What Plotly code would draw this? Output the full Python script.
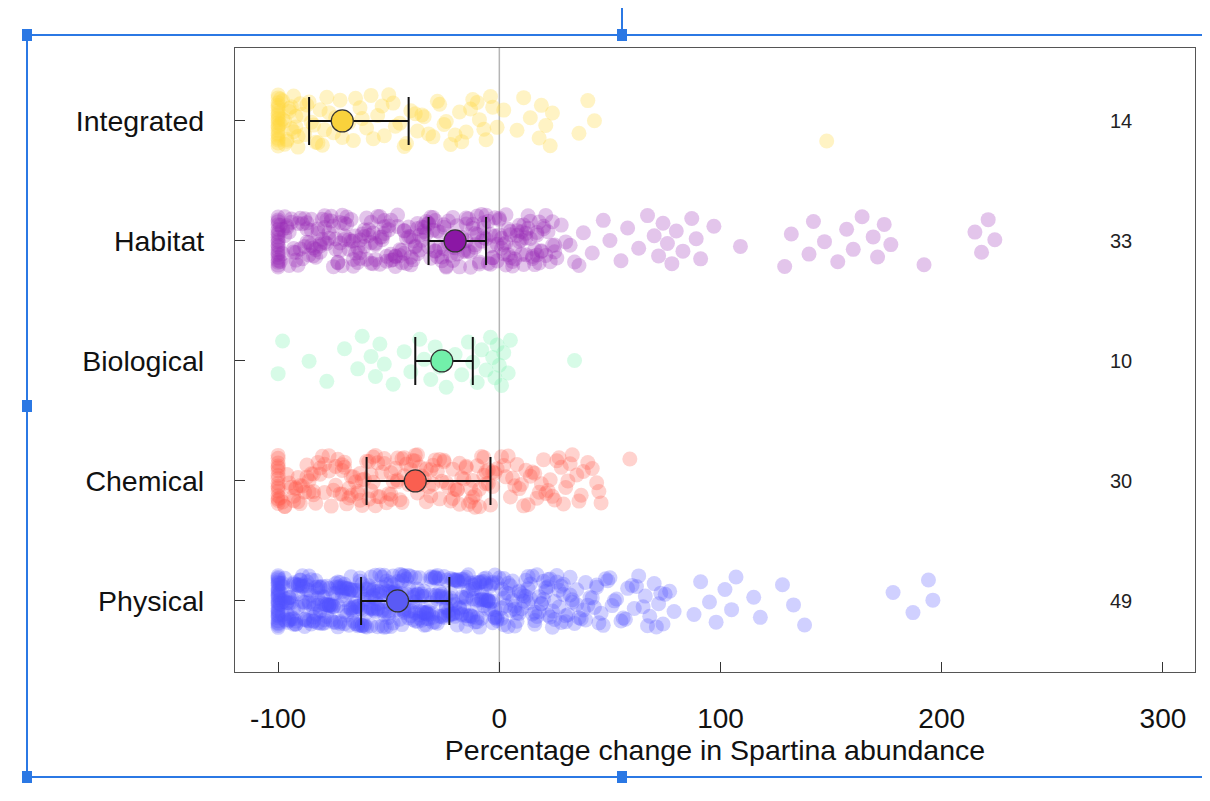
import plotly.graph_objects as go

# ---------------- data ----------------
categories = ["Physical", "Chemical", "Biological", "Habitat", "Integrated"]
n_studies = [49, 30, 10, 33, 14]
means = [-46, -38, -26, -20, -71]
ci_low = [-62.5, -60, -38, -32, -86]
ci_high = [-22.6, -4, -12, -6, -41]
x_ticks = [-100, 0, 100, 200, 300]
x_tick_text = ["-100", "0", "100", "200", "300"]

physical_vals = [-100] * 30 + [
    -97, -88, -72, -64, -55, -91, -83, -46, -38, -29, -12, -5, -67, -79, -94, -51, -22, -33, -8, -60,
    -85, -99, -76, -41, -18, -2, -57, -69, -93, -31, -48, -14, -81, -63, -26, -36, -89, -7, -53, -74,
    -96, -44, -21, -66, -11, -58, -86, -35, -78, -3, -49, -92, -27, -70, -16, -61, -39, -82, -24, -9,
    -54, -98, -73, -43, -30, -87, -62, -15, -95, -50, -6, -77, -34, -68, -19, -90, -45, -1, -59, -84,
    -28, -71, -40, -13, -65, -80, -47, -23, -97, -56, -32, -4, -75, -88, -42, -17, -63, -52, -10, -37,
    -93, -25, -58, -84, -70, -20, -44, -99, -66, -31, -8, -79, -53, -91, -14, -47, -36, -72, -61, -3,
    -86, -57, -29, -95, -41, -12, -76, -64, -22, -50, -83, -5, -38, -69, -18, -89, -46, -27, -74, -55,
    -92, -34, -81, -7, -60, -45, -98, -16, -73, -26, -52, -87, -39, -11, -67, -2, -58, -94, -30, -48,
    -78, -19, -63, -43, -90, -9, -35, -71, -24, -56, -85, -13, -49, -96, -28, -65, -40, -6, -82, -33,
    -59, -88, -15, -75, -21, -51, -97, -37, -68, -4, -43, -80, -26, -62, -10, -93, -54, -32, -17, -70,
    -95, -81, -66, -52, -37, -23, -9, -88, -74, -59, -44, -30, -16, -2, -91, -77, -62, -48, -34, -20,
    -6, -84, -70, -55, -41, -27, -13, -98, -80, -65, -51, -36, -22, -8, -93, -78, -64, -49, -35, -21,
    -7, -86, -72, -57, -43, -29, -15, -1, -90, -76, -61, -47, -33, -19, -5, -97, -83, -68, -54, -39,
    -25, -11, -94, -79, -64, -50, -36, -22, -8, -87, -73, -58, -44, -30, -16, -3, -92, -77, -63, -48,
    -34, -20, -6, -99, -85, -71, -56, -42, -28, -14, -89, -75, -60, -46, -32, -18, -4, -96, -82, -67,
    -53, -39, -25, -11, -82, -68, -53, -38, -24, -10, -95, -81, -67, -52, -38, -23, -9, -86, -72, -57,
    -43, -29, -15, -1, -90, -76, -61, -47, -33, -19,
    -98, -84, -69, -55, -40, -26, -12, -93, -79, -64, -50, -35, -21, -7, -88, -74, -59, -45, -31, -17,
    -3, -96, -82, -67, -53, -38, -24, -10, -91, -77, -62, -48, -33, -19, -5, -86, -72, -57, -43, -28,
    -14, -99, -84, -70, -55, -41, -27, -12, -94, -80, -65, -51, -37, -22, -8, -89, -75, -60, -46, -31,
    -17, -2, -92, -78, -63, -49, -34, -20, -6, -87, -73, -58, -44, -29, -15, -1, -95, -81, -66, -52,
    0, 2, 1, 5, 3, 7, 4, 9, 6, 11, 8, 13, 10, 15, 12, 17, 14, 19, 16, 21,
    18, 23, 20, 25, 22, 27, 24, 29, 31, 26, 33, 28, 35, 38, 32, 41, 36, 44, 40, 47,
    3, 8, 12, 6, 16, 21, 1, 26, 11, 30, 4, 19, 34, 9, 24, 2, 14, 37, 28, 7,
    4, 10, 15, 20, 25, 30, 1, 7, 13, 18, 23, 29, 35, 2, 9, 16, 22, 33, 39, 44,
    43, 17, 32, 22, 39, 13, 45, 27, 5, 50, 42, 56, 60, 51, 67, 73,
    46, 49, 52, 55, 58, 61, 63, 66, 68, 70, 72, 74, 77, 79, 48, 53, 57, 62, 65, 71, 75,
    88, 91, 95, 98, 102, 105, 107, 115, 118, 128, 133, 138, 178, 187, 194, 196,
]

chemical_vals = [-100] * 16 + [
    -97, -85, -72, -60, -48, -91, -33, -20, -8, -66, -54, -79, -41, -14, -3, -88, -27, -62, -45, -70,
    -94, -37, -58, -11, -82, -24, -51, -5, -75, -43, -17, -68, -30, -90, -56, -2, -64, -39, -86, -22,
    -47, -13, -77, -35, -93, -52, -6, -69, -28, -84, -44, -16, -59, -74, -32, -9, -81, -49, -25, -65,
    -98, -40, -19, -57, -87, -12, -71, -36, -4, -53, -79, -29, -46, -63, -15, -92, -38, -7, -67, -55,
    -95, -83, -71, -58, -46, -34, -21, -10, -89, -76, -63, -50, -38, -26, -13, -1, -92, -80, -67, -55,
    -42, -30, -18, -6, -86, -73, -61, -49, -36, -23, -11, -96, -84, -70, -57, -44, -31, -19, -7, -91,
    -99, -87, -74, -62, -49, -37, -25, -12, -93, -81, -68, -56, -43, -31, -18, -5, -90, -77, -64, -52,
    -39, -27, -15, -3, -97, -84, -71, -59, -46, -33, -21, -9,
    1, 3, 5, 8, 10, 13, 15, 18, 20, 23, 25, 28, 30, 33, 35, 37, 40, 44, 46, 12, 22, 27, 6, 17,
    2, 7, 11, 16, 21, 26, 31, 36, 42, 9, 4, 14, 24, 32, 19, 29, 38, 45, 59,
]

biological_vals = [
    -100, -98, -86, -78, -70, -64, -62, -58, -56, -54, -52, -48, -43, -40, -36, -34, -31, -29,
    -27, -24, -20, -17, -14, -12, -10, -8, -6, -4, -3, -2, -1, 0, 1, 2, 4, 5, 34,
]

habitat_vals = [-100] * 20 + [
    -96, -84, -71, -59, -45, -32, -18, -5, 8, 19, -90, -77, -63, -50, -38, -24, -11, 2, 14, -67,
    -99, -87, -74, -55, -41, -28, -15, -1, 11, 22, -93, -80, -68, -48, -35, -21, -8, 5, 17, -58,
    -86, -73, -61, -44, -30, -17, -3, 9, 24, -95, -82, -65, -52, -39, -26, -12, 1, 13, -70, -47,
    -91, -78, -57, -43, -29, -14, -6, 7, 20, -88, -75, -62, -49, -33, -20, -9, 4, 16, -97, -53,
    -83, -69, -56, -40, -27, -13, 0, 10, -92, -79, -64, -46, -36, -22, -7, 3, 18, -85, -72, -60,
    -42, -31, -19, -4, 6, 12, -98, -76, -66, -51, -37, -25, -10, -2, 15, -89, -81, -54, -34, -16,
    -94, -80, -66, -52, -38, -24, -10, 4, 18, -87, -73, -59, -45, -31, -17, -3, 11, 25, -91, -77,
    -63, -49, -35, -21, -7, 7, 21, -97, -84, -70, -56, -42, -28, -14, 0, 14, -89, -75, -61, -47,
    -33, -19, -5, 9, 23, -82, -68, -54, -40, -26, -12, 2, 16, -95, -81, -67, -53, -39, -25, -11,
    3, 17, -86, -72, -58, -44, -30, -16, -2, 12, 26, -99, -85, -71, -57, -43, -29, -15, -1, 13,
    -93, -79, -65, -51, -37, -23, -9, 5, 19, -88, -74, -60, -46, -32, -18, -4, 10, 24, 30, 34,
    -98, -83, -69, -54, -40, -25, -11, 3, 17, -92, -78, -63, -49, -34, -20, -6, 8, 21, -87, -72,
    -58, -43, -29, -15, 1, 15, -96, -81, -66, -52, -37, -23, -8, 6, 20, -90, -76, -61, -47, -32,
    -18, -4, 10, 25, -85, -70, -56, -41, -27, -13, 0, 12, -94, -79, -64, -50, -36, -21, -7, 5,
    28, 32, 36, 38, 42, 47, 50, 55, 58, 63, 67, 70, 72, 74, 76, 78, 80, 83, 87, 89, 91, 97,
    109, 129, 132, 140, 142, 147, 153, 157, 160, 164, 169, 171, 174, 177, 192, 215, 218, 221, 224,
]

integrated_vals = [-100] * 20 + [
    -98, -97, -96, -95, -94, -93, -92, -91, -90, -99, -97, -95, -93,
    -99, -98, -96, -94, -92, -91, -89, -88, -86, -85, -83, -81, -79, -78, -74, -71,
    -87, -84, -80, -77, -75, -72, -70, -66, -63, -60, -58, -55, -52, -48, -45, -42, -40, -37,
    -65, -62, -57, -53, -47, -43, -38, -32, -28, -24, -17, -13, -7, -4,
    -34, -30, -27, -25, -22, -18, -15, -12, -9, -6, -3, -1, -50, -35, -20, -10, -68, -82,
    2, 8, 11, 14, 18, 19, 21, 23, 24, 36, 40, 43, 148,
]

point_values = [physical_vals, chemical_vals, biological_vals, habitat_vals, integrated_vals]

# ---------------- styles ----------------
point_colors = ["rgba(80,80,255,0.27)", "rgba(255,90,75,0.27)", "rgba(110,240,170,0.28)",
                "rgba(150,40,180,0.27)", "rgba(255,215,60,0.30)"]
mean_colors = ["#5a5af5", "#fa5f50", "#72f0aa", "#8b17a5", "#f9d23c"]

fig = go.Figure()

GOLD = 0.6180339887
for ci, vals in enumerate(point_values):
    # deterministic vertical jitter (low-discrepancy sequence)
    ys = [ci + (((k * GOLD + 0.13 * ci) % 1.0) - 0.5) * 0.44 for k in range(len(vals))]
    fig.add_trace(go.Scatter(
        x=vals, y=ys, mode="markers",
        marker=dict(size=15, color=point_colors[ci], line=dict(width=0)),
        showlegend=False, hoverinfo="x",
    ))

for ci in range(len(categories)):
    fig.add_trace(go.Scatter(
        x=[means[ci]], y=[ci], mode="markers",
        marker=dict(size=22, color=mean_colors[ci], line=dict(color="#333333", width=1.2)),
        error_x=dict(type="data", symmetric=False,
                     array=[ci_high[ci] - means[ci]], arrayminus=[means[ci] - ci_low[ci]],
                     color="#111111", thickness=2, width=24),
        showlegend=False,
    ))

for ci in range(len(categories)):
    fig.add_annotation(x=281, y=ci, text=str(n_studies[ci]), showarrow=False,
                       font=dict(size=20, color="#222222"))

# zero reference line
fig.add_shape(type="line", xref="x", yref="paper", x0=0, x1=0, y0=0, y1=1,
              line=dict(color="#b5b5b5", width=1.5), layer="below")

# page offset of the figure (browser body margin)
OFF = 8
W, H = 1202, 793
# plot area in page pixels: left 235, right 1195, top 48, bottom 672
L, R, T, B = 235 - OFF, W - (1195 - OFF), 48 - OFF, H - (672 - OFF)
pw, ph = W - L - R, H - T - B


def px(x):
    return (x - OFF - L) / pw


def py(y):
    return (H - B - (y - OFF)) / ph


blue = "#2b78e4"
for (x0, y0, x1, y1) in [(27, 35, 1210, 35), (27, 777, 1210, 777), (27, 35, 27, 777), (622, 8, 622, 35)]:
    fig.add_shape(type="line", xref="paper", yref="paper", x0=px(x0), y0=py(y0), x1=px(x1), y1=py(y1),
                  line=dict(color=blue, width=2))
for (hx, hy) in [(27, 35), (622, 35), (27, 406), (27, 777), (622, 777)]:
    fig.add_shape(type="rect", xref="paper", yref="paper",
                  x0=px(hx - 5), x1=px(hx + 5), y0=py(hy - 6), y1=py(hy + 6),
                  fillcolor=blue, line=dict(width=0))

fig.update_layout(
    width=W, height=H,
    margin=dict(l=L, r=R, t=T, b=B),
    paper_bgcolor="white", plot_bgcolor="white",
    font=dict(family="Liberation Sans, Arial, sans-serif", color="#111111"),
    xaxis=dict(
        range=[-119.5, 314.5], tickvals=x_ticks, ticktext=x_tick_text,
        ticks="inside", ticklen=10, tickcolor="#333333",
        showgrid=False, zeroline=False,
        showline=True, mirror=True, linecolor="#555555", linewidth=1.2,
        tickfont=dict(size=28), ticklabelstandoff=21,
        title=dict(text="Percentage change in Spartina abundance", font=dict(size=28.5), standoff=6),
    ),
    yaxis=dict(
        range=[-0.592, 4.608], tickvals=list(range(len(categories))), ticktext=categories,
        ticks="inside", ticklen=10, tickcolor="#333333",
        showgrid=False, zeroline=False,
        showline=True, mirror=True, linecolor="#555555", linewidth=1.2,
        tickfont=dict(size=28.5), ticklabelstandoff=24,
    ),
)

fig.write_html("out.html")
